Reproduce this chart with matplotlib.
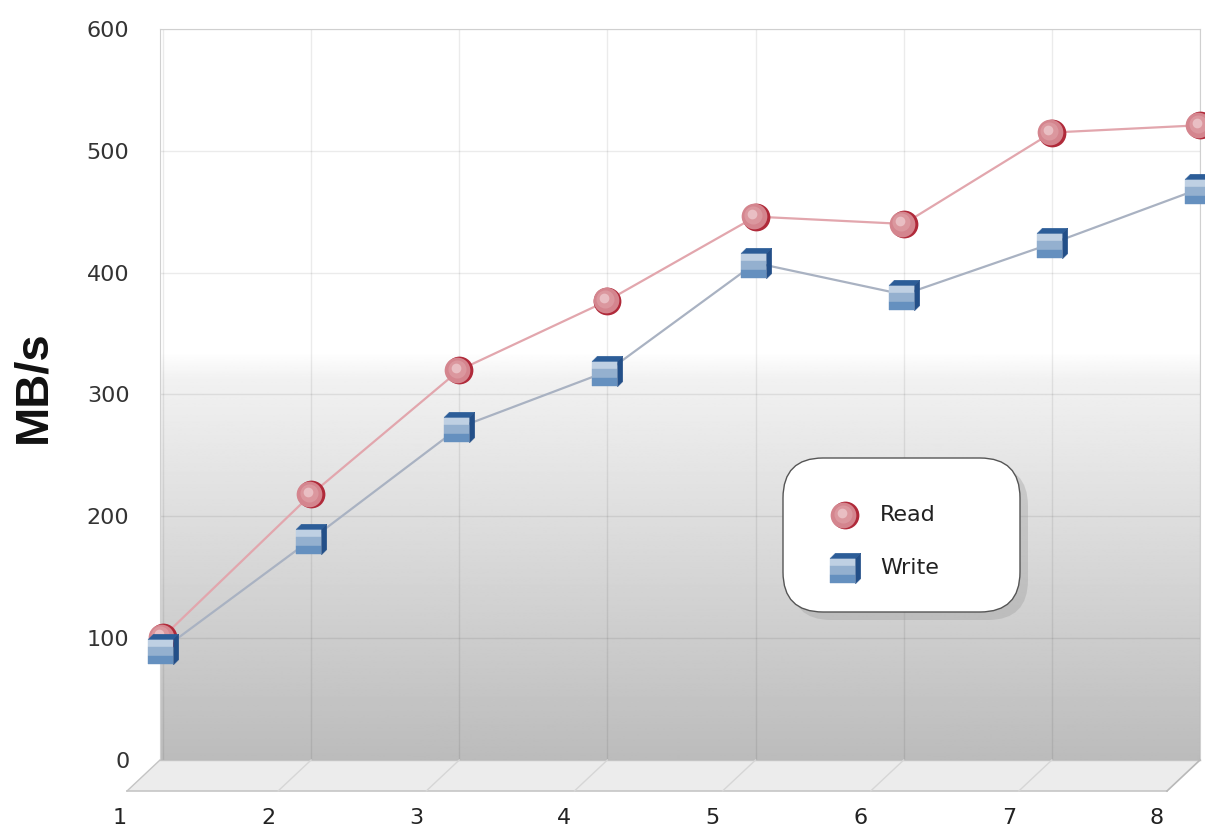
import numpy as np
import matplotlib
matplotlib.use('Agg')
import matplotlib.pyplot as plt
from matplotlib.patches import FancyBboxPatch, Polygon
from matplotlib.lines import Line2D
from matplotlib.path import Path
from matplotlib.transforms import ScaledTranslation, IdentityTransform

# data
runs = [1, 2, 3, 4, 5, 6, 7, 8]
read_speed = [101, 218, 320, 377, 446, 440, 515, 521]
write_speed = [91, 181, 273, 319, 408, 382, 424, 469]
y_ticks = [0, 100, 200, 300, 400, 500, 600]
series_names = ['Read', 'Write']

W, H = 1205, 833
fig = plt.figure(figsize=(W / 100, H / 100), dpi=100)
fig.patch.set_facecolor('white')
ax = fig.add_axes([160 / W, 73 / H, 1040 / W, 731 / H])
ax.set_xlim(0.98, 7.98)
ax.set_ylim(0, 600)


def shift(dx, dy):
    # pixel offset
    return ScaledTranslation(dx / 100, dy / 100, fig.dpi_scale_trans)


# back wall gradient: white on top, grey towards the floor
v = np.linspace(0, 600, 600)
grad = np.where(v > 335, 1.0,
                np.where(v > 312, 0.945 + (v - 312) / 23 * 0.055,
                         0.735 + 0.21 * v / 312))
ax.imshow(np.tile(grad[:, None], (1, 2)), extent=(0, 1, 0, 1), transform=ax.transAxes,
          cmap='gray', vmin=0, vmax=1, aspect='auto', origin='lower', zorder=0)

ax.set_xticks(runs)
ax.set_yticks(y_ticks)
ax.set_axisbelow(True)
ax.grid(color='black', alpha=0.08, lw=1)
ax.tick_params(axis='x', labelbottom=False, length=0)
ax.tick_params(axis='y', length=0, pad=22, labelsize=16, labelcolor='#333333')
for s in ['left', 'top', 'right']:
    ax.spines[s].set_color('#d0d0d0')
ax.spines['bottom'].set_visible(False)

# cube faces as marker paths (same extent so they scale together)
d = 0.66
front_top = Path([(-1, 0.1), (d, 0.1), (d, d), (-1, d), (-1, 0.1)])
front_mid = Path([(-1, -0.45), (d, -0.45), (d, 0.1), (-1, 0.1), (-1, -0.45)])
front_bot = Path([(-1, -1), (d, -1), (d, -0.45), (-1, -0.45), (-1, -1)])
top_face = Path([(-1, d), (d, d), (1, 1), (-0.66, 1), (-1, d)])
right_face = Path([(d, -1), (1, -0.66), (1, 1), (d, d), (d, -1)])
cube_faces = [(front_top, '#bfd0e3'), (front_mid, '#94b0cf'), (front_bot, '#6590bf'),
              (top_face, '#2c5d98'), (right_face, '#234f88')]


def sphere(x, y, trans, z=4):
    ax.plot(x, y, 'o', ms=20, mfc='#b02a3a', mec='none', ls='none',
            transform=trans, clip_on=False, zorder=z)
    ax.plot(x, y, 'o', ms=18.5, mfc='#d4858e', mec='none', ls='none',
            transform=trans + shift(-1.8, 0.3), clip_on=False, zorder=z + 0.1)
    ax.plot(x, y, 'o', ms=13, mfc='#df9fa6', mec='none', ls='none', alpha=0.7,
            transform=trans + shift(-2.5, 1.5), clip_on=False, zorder=z + 0.2)
    ax.plot(x, y, 'o', ms=7, mfc='#f0d0d3', mec='none', ls='none', alpha=0.7,
            transform=trans + shift(-3.5, 2.5), clip_on=False, zorder=z + 0.3)


def cube(x, y, trans, z=4):
    for i, (face, col) in enumerate(cube_faces):
        ax.plot(x, y, ls='none', marker=face, ms=22, mfc=col, mec=col, mew=0.3,
                transform=trans, clip_on=False, zorder=z + 0.05 * i)


ax.plot(runs, read_speed, color='#e2a6ad', lw=1.6, zorder=3, clip_on=False)
ax.plot(runs, write_speed, color='#a9b2c2', lw=1.6, zorder=3, clip_on=False)
sphere(runs, read_speed, ax.transData, z=4)
cube(runs, write_speed, ax.transData, z=5)

# floor in front of the wall
dx, dy = -33, -31
bl = ax.transAxes.transform((0, 0))
br = ax.transAxes.transform((1, 0))
off = np.array([dx, dy])
floor = Polygon([bl, br, br + off, bl + off], closed=True, facecolor='#ececec',
                edgecolor='none', transform=IdentityTransform(), zorder=1)
fig.add_artist(floor)
fig.add_artist(Line2D([bl[0], br[0]], [bl[1], bl[1]], color='#c4c4c4', lw=1,
                      transform=IdentityTransform()))
fig.add_artist(Line2D([bl[0] + dx, br[0] + dx], [bl[1] + dy, bl[1] + dy], color='#c6c6c6',
                      lw=1.2, transform=IdentityTransform()))
fig.add_artist(Line2D([bl[0], bl[0] + dx], [bl[1], bl[1] + dy], color='#c4c4c4', lw=1,
                      transform=IdentityTransform()))
fig.add_artist(Line2D([br[0], br[0] + dx], [br[1], br[1] + dy], color='#b8b8b8', lw=1.2,
                      transform=IdentityTransform()))
for r in runs[1:-1]:
    p = ax.transData.transform((r, 0))
    fig.add_artist(Line2D([p[0], p[0] + dx], [p[1], p[1] + dy], color='#d6d6d6', lw=1,
                          transform=IdentityTransform()))

for r in runs:
    ax.text(r, 0, str(r), transform=ax.transData + shift(-43, -58), ha='center',
            va='center', fontsize=16, color='#222222', clip_on=False)

fig.text(33 / W, 1 - 387 / H, 'MB/s', rotation=90, ha='center', va='center',
         fontsize=34, fontweight='bold', family='Liberation Sans', color='#111111')

# legend box with shadow
bx, by, bw, bh = 783, H - 612, 237, 154
ax.add_patch(FancyBboxPatch((bx + 8, by - 8), bw, bh, boxstyle='round,pad=0,rounding_size=40',
                            facecolor='#9a9a9a', edgecolor='none', alpha=0.35,
                            transform=IdentityTransform(), clip_on=False, zorder=9))
ax.add_patch(FancyBboxPatch((bx, by), bw, bh, boxstyle='round,pad=0,rounding_size=40',
                            facecolor='white', edgecolor='#555555', lw=1,
                            transform=IdentityTransform(), clip_on=False, zorder=10))
sphere([845], [H - 515], IdentityTransform(), z=11)
cube([845], [H - 568], IdentityTransform(), z=11)
for name, yy in zip(series_names, [515, 568]):
    ax.text(880, H - yy, name, transform=IdentityTransform(), ha='left', va='center',
            fontsize=16, color='#222222', zorder=12)

fig.savefig('out.png', dpi=100)
